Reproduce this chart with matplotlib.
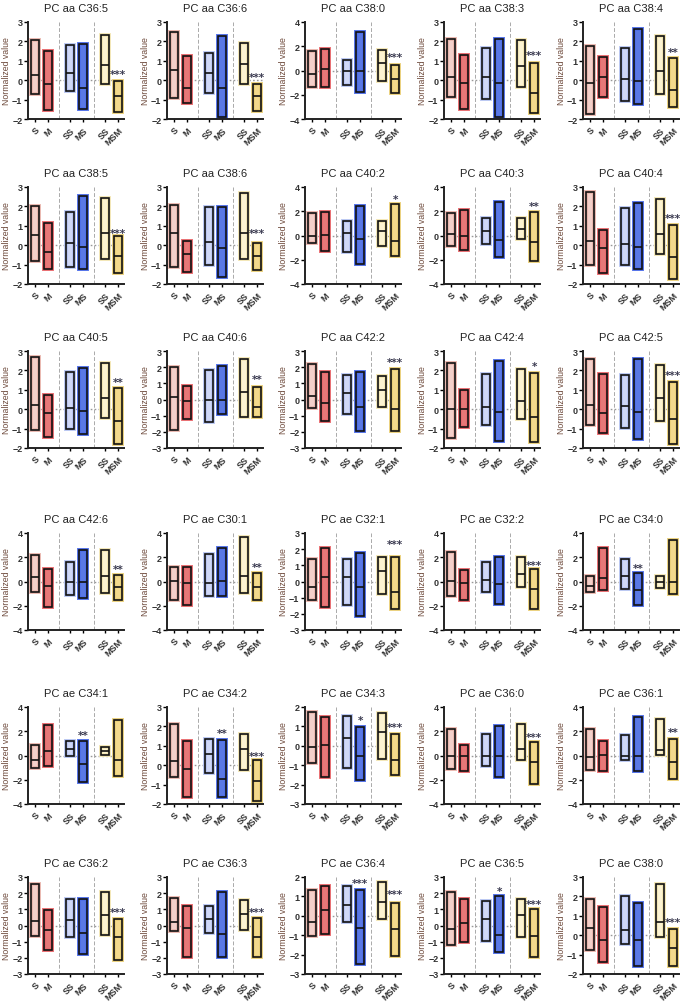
import numpy as np
import matplotlib.pyplot as plt

plt.rcParams['font.family'] = ['Liberation Sans', 'DejaVu Sans']

titles = ['PC aa C36:5', 'PC aa C36:6', 'PC aa C38:0', 'PC aa C38:3', 'PC aa C38:4',
          'PC aa C38:5', 'PC aa C38:6', 'PC aa C40:2', 'PC aa C40:3', 'PC aa C40:4',
          'PC aa C40:5', 'PC aa C40:6', 'PC aa C42:2', 'PC aa C42:4', 'PC aa C42:5',
          'PC aa C42:6', 'PC ae C30:1', 'PC ae C32:1', 'PC ae C32:2', 'PC ae C34:0',
          'PC ae C34:1', 'PC ae C34:2', 'PC ae C34:3', 'PC ae C36:0', 'PC ae C36:1',
          'PC ae C36:2', 'PC ae C36:3', 'PC ae C36:4', 'PC ae C36:5', 'PC ae C38:0']

groups = ['S', 'M', 'SS', 'MS', 'SS', 'MSM']

ylims = [(-2, 3), (-2, 3), (-4, 4), (-2, 3), (-2, 3),
         (-2, 3), (-2, 3), (-4, 4), (-4, 4), (-2, 3),
         (-2, 3), (-3, 3), (-3, 3), (-2, 3), (-2, 3),
         (-4, 4), (-4, 4), (-3, 3), (-4, 4), (-4, 4),
         (-4, 4), (-2, 3), (-3, 2), (-4, 4), (-4, 4),
         (-3, 3), (-3, 3), (-3, 2), (-3, 3), (-2, 3)]

# min of each group
lows = [
    [-0.70, -1.55, -0.58, -1.48, -0.20, -1.65],
    [-0.92, -1.17, -0.65, -1.88, -0.18, -1.60],
    [-1.36, -1.39, -1.20, -1.75, -0.83, -1.89],
    [-0.85, -1.46, -0.95, -1.90, -0.33, -1.68],
    [-1.74, -0.87, -1.08, -1.22, -0.73, -1.37],
    [-0.84, -1.22, -1.10, -1.22, -0.71, -1.45],
    [-1.10, -1.36, -1.01, -1.62, -0.70, -1.27],
    [-0.64, -1.28, -1.34, -2.37, -0.86, -1.67],
    [-0.84, -1.20, -0.70, -1.75, -0.31, -2.09],
    [-1.01, -1.45, -1.01, -1.24, -0.47, -1.76],
    [-1.08, -1.42, -1.04, -1.28, -0.47, -1.77],
    [-1.90, -1.23, -1.38, -0.92, -1.10, -1.06],
    [-0.50, -1.31, -0.90, -1.94, -0.48, -1.94],
    [-1.46, -0.94, -0.82, -1.63, -0.52, -1.68],
    [-0.82, -1.22, -0.99, -1.55, -0.61, -1.80],
    [-0.90, -2.08, -1.12, -1.40, -0.93, -1.56],
    [-1.50, -1.95, -1.18, -1.18, -0.96, -1.56],
    [-1.15, -1.60, -1.46, -2.12, -0.78, -1.70],
    [-1.18, -1.56, -0.90, -1.84, -0.49, -2.27],
    [-0.85, -0.71, -0.63, -1.95, -0.52, -1.01],
    [-1.02, -0.88, -0.08, -2.20, 0.08, -1.66],
    [-0.62, -1.62, -0.41, -1.66, -0.24, -1.83],
    [-0.88, -1.62, -1.14, -1.76, -0.67, -1.50],
    [-1.13, -1.24, -0.83, -1.74, -0.41, -2.34],
    [-1.19, -1.30, -0.41, -1.24, 0.08, -1.93],
    [-0.64, -1.50, -0.74, -1.77, -0.60, -2.12],
    [-0.35, -1.93, -0.49, -1.97, -0.29, -1.97],
    [-1.03, -0.94, -0.34, -2.48, -0.14, -2.05],
    [-1.19, -1.05, -0.94, -1.66, -0.74, -1.97],
    [-0.75, -1.37, -0.46, -1.58, -0.09, -1.58],
]

# median of each group
meds = [
    [0.25, -0.22, 0.37, -0.38, 0.78, -0.80],
    [0.52, -0.38, 0.36, -0.42, 0.83, -0.82],
    [-0.28, 0.14, 0.00, -0.05, 0.64, -0.69],
    [0.14, -0.15, 0.14, -0.17, 0.71, -0.68],
    [-0.17, 0.14, 0.05, -0.05, 0.49, -0.50],
    [0.52, -0.37, 0.12, -0.10, 0.64, -0.57],
    [0.61, -0.45, 0.17, -0.17, 0.61, -0.57],
    [-0.03, 0.06, 0.20, -0.28, 0.39, -0.42],
    [0.14, -0.08, 0.33, -0.36, 0.52, -0.50],
    [0.20, -0.14, 0.07, -0.09, 0.59, -0.61],
    [0.20, -0.18, 0.05, -0.07, 0.57, -0.59],
    [0.15, -0.10, 0.00, 0.00, 0.44, -0.44],
    [0.23, -0.19, 0.40, -0.48, 0.60, -0.58],
    [0.00, 0.02, 0.10, -0.14, 0.40, -0.38],
    [0.23, -0.20, 0.14, -0.17, 0.57, -0.52],
    [0.36, -0.36, -0.05, 0.00, 0.47, -0.47],
    [0.08, -0.14, -0.14, 0.08, 0.47, -0.47],
    [-0.33, 0.27, 0.27, -0.35, 0.64, -0.66],
    [0.05, -0.14, 0.14, -0.22, 0.63, -0.60],
    [-0.36, 0.27, 0.47, -0.71, 0.00, 0.00],
    [-0.41, 0.36, 0.55, -0.69, 0.36, -0.36],
    [0.24, -0.19, 0.59, -0.71, 0.84, -0.83],
    [-0.07, 0.05, 0.41, -0.50, 0.71, -0.72],
    [0.00, -0.08, 0.00, -0.06, 0.55, -0.55],
    [-0.14, 0.06, -0.06, 0.00, 0.47, -0.55],
    [0.29, -0.27, 0.35, -0.49, 0.64, -0.70],
    [0.23, -0.18, 0.39, -0.53, 0.72, -0.74],
    [-0.34, 0.29, 0.55, -0.62, 0.72, -0.68],
    [-0.23, 0.18, 0.43, -0.60, 0.64, -0.64],
    [0.36, -0.26, 0.26, -0.26, 0.70, -0.68],
]

# max of each group
highs = [
    [2.05, 1.52, 1.83, 1.87, 2.33, -0.05],
    [2.47, 1.23, 1.42, 2.27, 1.92, -0.20],
    [1.60, 1.75, 0.86, 3.20, 1.72, 0.47],
    [2.10, 1.30, 1.67, 2.10, 2.07, 0.90],
    [1.75, 1.18, 1.65, 2.62, 2.26, 1.13],
    [2.04, 1.17, 1.72, 2.56, 2.42, 0.50],
    [2.09, 0.24, 1.95, 1.95, 2.70, 0.12],
    [1.87, 1.95, 1.23, 2.43, 1.17, 2.56],
    [1.87, 2.14, 1.45, 2.76, 1.45, 1.95],
    [2.73, 0.78, 1.90, 2.18, 2.39, 1.03],
    [2.71, 0.75, 1.90, 2.13, 2.36, 1.09],
    [2.02, 0.85, 1.81, 2.06, 2.48, 0.75],
    [2.17, 1.71, 1.50, 1.71, 1.48, 1.90],
    [2.40, 1.00, 1.82, 2.48, 2.08, 1.87],
    [2.60, 1.84, 1.74, 2.60, 2.27, 1.40],
    [2.22, 1.07, 1.62, 2.58, 2.58, 0.52],
    [1.20, 1.20, 2.30, 2.77, 3.67, 0.66],
    [1.42, 2.07, 1.42, 1.79, 1.52, 1.50],
    [2.44, 0.93, 1.62, 2.03, 2.03, 1.07],
    [0.47, 2.77, 1.89, 0.66, 0.47, 3.40],
    [0.83, 2.48, 1.16, 1.19, 0.69, 2.95],
    [2.14, 1.24, 1.36, 1.28, 1.62, 0.29],
    [1.74, 1.48, 1.52, 0.97, 1.69, 0.62],
    [2.21, 0.83, 1.79, 2.40, 2.62, 1.10],
    [2.21, 1.19, 1.66, 3.17, 3.03, 1.38],
    [2.55, 0.94, 1.62, 1.62, 2.09, 0.43],
    [1.72, 1.21, 1.21, 2.09, 1.58, 0.49],
    [1.34, 1.54, 1.54, 1.34, 1.75, 0.65],
    [2.07, 1.62, 1.52, 1.83, 1.62, 1.00],
    [1.85, 1.47, 2.02, 1.64, 2.62, 0.34],
]

# significance marks: (group index, text, y)
stars = [
    [(5, '***', 0.30)], [(5, '***', 0.15)], [(5, '***', 1.10)], [(5, '***', 1.30)], [(5, '**', 1.45)],
    [(5, '***', 0.65)], [(5, '***', 0.62)], [(5, '*', 3.05)], [(5, '**', 2.45)], [(5, '***', 1.40)],
    [(5, '**', 1.42)], [(5, '**', 1.25)], [(5, '***', 2.35)], [(5, '*', 2.25)], [(5, '***', 1.78)],
    [(5, '**', 1.00)], [(5, '**', 1.20)], [(5, '***', 2.35)], [(5, '***', 1.35)], [(3, '**', 1.10)],
    [(3, '**', 1.70)], [(3, '**', 1.65), (5, '***', 0.48)], [(3, '*', 1.35), (5, '***', 0.97)],
    [(5, '***', 1.55)], [(5, '**', 1.90)],
    [(5, '***', 0.85)], [(5, '***', 0.85)], [(3, '***', 1.70), (5, '***', 1.10)],
    [(3, '*', 2.15), (5, '***', 1.35)], [(5, '***', 0.68)],
]

face = ['#f3d0ca', '#e67878', '#d0d8f6', '#5a78e4', '#fcf3d2', '#f3d98c']
halo = ['#e9b7ae', '#e86a6e', '#b9c6f2', '#4f6fe8', '#f3e6b4', '#ead07a']
xpos = [0, 1, 2.7, 3.7, 5.4, 6.4]

W, H = 685, 1004
col_left = [28, 167, 305, 444, 583]
row_top = [23, 188, 352, 534, 708, 878]
aw, ah = 96, 97

fig = plt.figure(figsize=(W / 100, H / 100), dpi=100)

for i in range(30):
    r, c = divmod(i, 5)
    ax = fig.add_axes([col_left[c] / W, 1 - (row_top[r] + ah) / H, aw / W, ah / H])
    lo, hi = ylims[i]
    ax.set_xlim(-0.55, 6.85)
    ax.set_ylim(lo, hi)
    step = 2 if hi - lo == 8 else 1
    ax.set_yticks(np.arange(lo, hi + 0.01, step))

    ax.axhline(0, color='#999999', ls=(0, (1.2, 1.6)), lw=1.0, zorder=1)
    for sx in [1.85, 4.55]:
        ax.axvline(sx, color='#aaaaaa', ls=(0, (4, 2)), lw=0.7, zorder=1)

    heights = np.array(highs[i]) - np.array(lows[i])
    ax.bar(xpos, heights, bottom=lows[i], width=0.62, color=face,
           edgecolor=halo, linewidth=2.8, zorder=2)
    ax.bar(xpos, heights, bottom=lows[i], width=0.62, color='none',
           edgecolor='#111111', linewidth=1.2, zorder=3)
    ax.hlines(meds[i], np.array(xpos) - 0.31, np.array(xpos) + 0.31,
              color='#111111', lw=1.2, zorder=4)

    for g, txt, y in stars[i]:
        ax.text(xpos[g], y, txt, ha='center', va='center', fontsize=7.5,
                color='#3a3a50', fontweight='bold', family='DejaVu Sans', zorder=5)

    ax.set_title(titles[i], fontsize=8, color='#222222', pad=8)
    ax.set_ylabel('Normalized value', fontsize=6.3, color='#6e4a3c', labelpad=1)
    ax.set_xticks(xpos)
    ax.set_xticklabels(groups, rotation=45, ha='right', rotation_mode='anchor',
                       fontsize=6.5, color='#333333', fontweight='bold')
    ax.tick_params(axis='y', labelsize=6.5, labelcolor='#333333', length=3, width=1, pad=1)
    for lab in ax.get_yticklabels():
        lab.set_fontweight('bold')
    ax.tick_params(axis='x', length=2.5, width=1, pad=2)
    for s in ['top', 'right']:
        ax.spines[s].set_visible(False)
    for s in ['left', 'bottom']:
        ax.spines[s].set_linewidth(1.4)
        ax.spines[s].set_color('#222222')

fig.savefig('out.png', dpi=100)
